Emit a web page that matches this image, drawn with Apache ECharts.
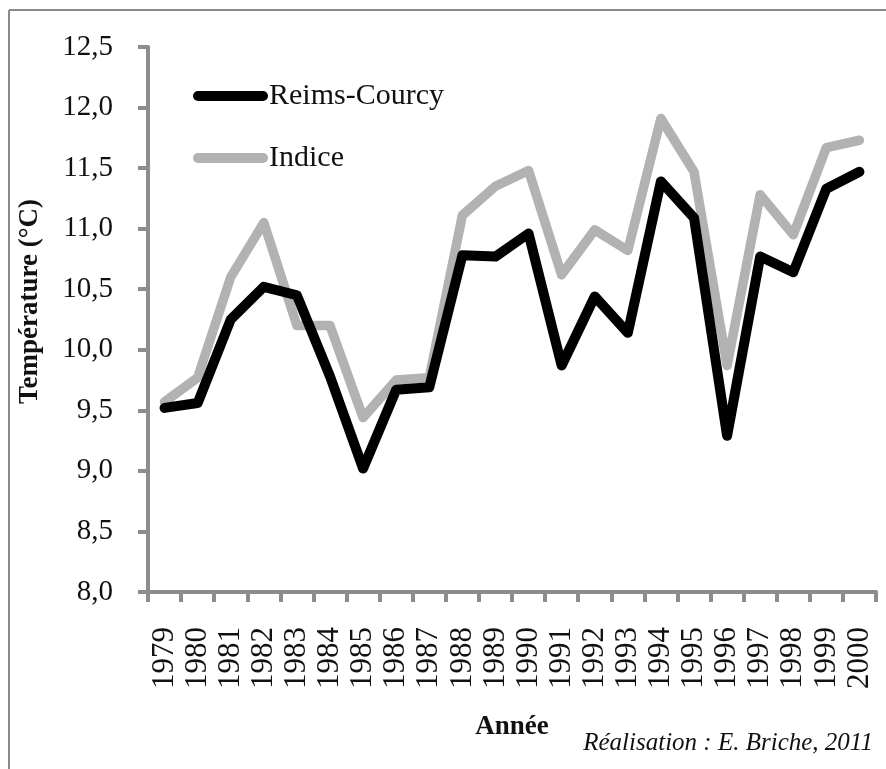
<!DOCTYPE html>
<html>
<head>
<meta charset="utf-8">
<script src="https://cdn.jsdelivr.net/npm/echarts@6/dist/echarts.min.js"></script>
<style>
  html, body { margin: 0; padding: 0; background: #fff; }
  #chart { width: 886px; height: 769px; }
</style>
</head>
<body>
<div id="chart"></div>
<script>
// Mean annual temperature, 1979-2000
const years = ['1979','1980','1981','1982','1983','1984','1985','1986','1987','1988','1989',
               '1990','1991','1992','1993','1994','1995','1996','1997','1998','1999','2000'];
const reimsCourcy = [9.52, 9.56, 10.25, 10.52, 10.45, 9.78, 9.02, 9.67, 9.69, 10.78, 10.77,
                     10.96, 9.87, 10.44, 10.14, 11.39, 11.09, 9.29, 10.77, 10.64, 11.33, 11.47];
const indice = [9.57, 9.77, 10.60, 11.05, 10.20, 10.20, 9.44, 9.75, 9.77, 11.11, 11.35,
                11.48, 10.62, 10.99, 10.82, 11.91, 11.47, 9.87, 11.28, 10.95, 11.67, 11.73];
const yTicks = { min: 8, max: 12.5, interval: 0.5 };

const serif = '"Liberation Serif", "DejaVu Serif", serif';
const axisGrey = '#8c8c8c';
const pill = 'path://M5,0 H70 A5,5 0 0 1 70,10 H5 A5,5 0 0 1 5,0 Z';

const chart = echarts.init(document.getElementById('chart'), null, { renderer: 'canvas' });
chart.setOption({
  backgroundColor: '#ffffff',
  animation: false,
  grid: { left: 148, right: 10, top: 47, bottom: 177, containLabel: false },
  legend: {
    orient: 'vertical',
    left: 188,
    top: 76,
    itemWidth: 75,
    itemHeight: 10,
    itemGap: 32,
    icon: pill,
    data: ['Reims-Courcy', 'Indice'],
    textStyle: { fontFamily: serif, fontSize: 30, color: '#111', padding: [0, 0, 0, -4] }
  },
  xAxis: {
    type: 'category',
    data: years,
    boundaryGap: true,
    name: 'Année',
    nameLocation: 'middle',
    nameGap: 122,
    nameTextStyle: { fontFamily: serif, fontSize: 27, fontWeight: 'bold', color: '#111' },
    axisLine: { lineStyle: { color: axisGrey, width: 4 } },
    axisTick: { show: true, alignWithLabel: false, length: 10, lineStyle: { color: axisGrey, width: 4 } },
    axisLabel: { rotate: 90, margin: 35, fontFamily: serif, fontSize: 31, color: '#111', interval: 0 },
    splitLine: { show: false }
  },
  yAxis: {
    type: 'value',
    min: yTicks.min,
    max: yTicks.max,
    interval: yTicks.interval,
    name: 'Température (°C)',
    nameLocation: 'middle',
    nameGap: 104,
    nameRotate: 90,
    nameTextStyle: {
      fontFamily: serif, fontSize: 27, fontWeight: 'bold', color: '#111',
      padding: [0, 0, 0, 36]
    },
    axisLine: { show: true, lineStyle: { color: axisGrey, width: 4 } },
    axisTick: { show: true, length: 10, lineStyle: { color: axisGrey, width: 4 } },
    axisLabel: {
      margin: 35, fontFamily: serif, fontSize: 29, color: '#111',
      formatter: v => v.toFixed(1).replace('.', ',')
    },
    splitLine: { show: false }
  },
  series: [
    {
      name: 'Indice',
      type: 'line',
      data: indice,
      symbol: 'none',
      itemStyle: { color: '#b2b2b2' },
      lineStyle: { color: '#b2b2b2', width: 9.5, cap: 'round', join: 'round' },
      z: 2
    },
    {
      name: 'Reims-Courcy',
      type: 'line',
      data: reimsCourcy,
      symbol: 'none',
      itemStyle: { color: '#000000' },
      lineStyle: { color: '#000000', width: 10, cap: 'round', join: 'round' },
      z: 3
    }
  ],
  graphic: [
    { type: 'line', shape: { x1: 9, y1: 10, x2: 886, y2: 10 }, style: { stroke: '#8a8a8a', lineWidth: 2 } },
    { type: 'line', shape: { x1: 9, y1: 10, x2: 9, y2: 769 }, style: { stroke: '#8a8a8a', lineWidth: 2 } },
    {
      type: 'text', right: 13, top: 731,
      style: {
        text: 'Réalisation : E. Briche, 2011',
        font: 'italic 25px "Liberation Serif"', fill: '#111'
      }
    }
  ]
});
</script>
</body>
</html>
